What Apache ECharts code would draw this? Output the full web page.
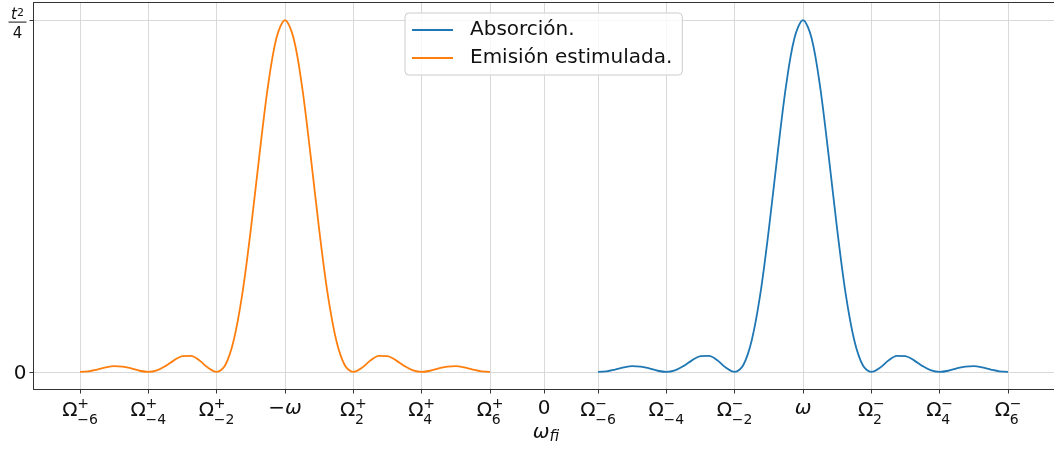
<!DOCTYPE html>
<html>
<head>
<meta charset="utf-8">
<script src="https://cdn.jsdelivr.net/npm/echarts@6/dist/echarts.min.js"></script>
<style>
  html, body { margin: 0; padding: 0; background: #fff; }
  #main { width: 1054px; height: 452px; }
</style>
</head>
<body>
<div id="main"></div>
<script>
// desplazamiento respecto al centro de cada pico (en unidades de separación entre ceros)
var offsets = [-3, -2.875, -2.75, -2.625, -2.5, -2.375, -2.25, -2.125, -2, -1.875, -1.75, -1.625, -1.5,
    -1.375, -1.25, -1.125, -1, -0.875, -0.75, -0.625, -0.5, -0.375, -0.25, -0.125, 0,
    0.125, 0.25, 0.375, 0.5, 0.625, 0.75, 0.875, 1, 1.125, 1.25, 1.375, 1.5, 1.625, 1.75,
    1.875, 2, 2.125, 2.25, 2.375, 2.5, 2.625, 2.75, 2.875, 3];

var absorcion = [0, 0.0018, 0.0067, 0.0126, 0.0162, 0.0153, 0.0100, 0.0033, 0, 0.0042, 0.0165, 0.0328, 0.045,
    0.0457, 0.0324, 0.0117, 0, 0.019, 0.090, 0.221, 0.405, 0.615, 0.811, 0.949, 1,
    0.949, 0.811, 0.615, 0.405, 0.221, 0.090, 0.019, 0, 0.0117, 0.0324, 0.0457, 0.045, 0.0328, 0.0165,
    0.0042, 0, 0.0033, 0.0100, 0.0153, 0.0162, 0.0126, 0.0067, 0.0018, 0];

var emision = [0, 0.0018, 0.0067, 0.0126, 0.0162, 0.0153, 0.0100, 0.0033, 0, 0.0042, 0.0165, 0.0328, 0.045,
    0.0457, 0.0324, 0.0117, 0, 0.019, 0.090, 0.221, 0.405, 0.615, 0.811, 0.949, 1,
    0.949, 0.811, 0.615, 0.405, 0.221, 0.090, 0.019, 0, 0.0117, 0.0324, 0.0457, 0.045, 0.0328, 0.0165,
    0.0042, 0, 0.0033, 0.0100, 0.0153, 0.0162, 0.0126, 0.0067, 0.0018, 0];

var centroAbs = 3.79;
var centroEmi = -3.79;

// marcas del eje x
var tickPos = [-6.79, -5.79, -4.79, -3.79, -2.79, -1.79, -0.79, 0, 0.79, 1.79, 2.79, 3.79, 4.79, 5.79, 6.79];
var tickBase = ['Ω', 'Ω', 'Ω', '−ω', 'Ω', 'Ω', 'Ω', '0', 'Ω', 'Ω', 'Ω', 'ω', 'Ω', 'Ω', 'Ω'];
var tickSup = ['+', '+', '+', '', '+', '+', '+', '', '−', '−', '−', '', '−', '−', '−'];
var tickSub = ['−6', '−4', '−2', '', '2', '4', '6', '', '−6', '−4', '−2', '', '2', '4', '6'];

var yTicks = [0, 1];

var FONT = 'DejaVu Sans';
var INK = '#111';
var SPINE = '#333';
var GRID = '#d9d9d9';

function toPairs(center, values) {
    return offsets.map(function (u, i) { return [center + u, values[i]]; });
}

function xLabel(v) {
    var best = 0;
    for (var i = 1; i < tickPos.length; i++) {
        if (Math.abs(tickPos[i] - v) < Math.abs(tickPos[best] - v)) best = i;
    }
    var b = tickBase[best];
    if (b === 'Ω') {
        return '{sp| }{sup|' + tickSup[best] + '}\n{o|Ω}{sub|' + tickSub[best] + '}';
    }
    if (b === '−ω') return '{h| }\n{m|−}{w|ω}';
    if (b === 'ω') return '{h| }\n{w|ω}';
    return '{h| }\n{z|' + b + '}';
}

var chart = echarts.init(document.getElementById('main'));

var option = {
    animation: false,
    backgroundColor: '#fff',
    textStyle: { fontFamily: FONT },
    grid: {
        left: 33.5, top: 2.5, width: 1025, height: 387,
        show: false,
        outerBoundsMode: 'none', containLabel: false
    },
    legend: {
        orient: 'vertical',
        left: 405, top: 13,
        padding: [6, 10, 6, 7],
        itemGap: 6,
        itemWidth: 41, itemHeight: 2,
        icon: 'rect',
        backgroundColor: 'rgba(255,255,255,0.8)',
        borderColor: '#cccccc', borderWidth: 1, borderRadius: 4,
        textStyle: { fontFamily: FONT, fontSize: 20, lineHeight: 22, color: INK, padding: [0, 0, 0, 12] },
        data: ['Absorción.', 'Emisión estimulada.']
    },
    xAxis: [{
        type: 'value',
        min: -7.47, max: 7.5285,
        name: '{w|ω}{f|fi}',
        nameLocation: 'middle',
        nameGap: 42,
        nameMoveOverlap: false,
        nameTextStyle: {
            rich: {
                w: { fontFamily: FONT, fontSize: 20, fontStyle: 'italic', color: INK, height: 2, lineHeight: 2, verticalAlign: 'top' },
                f: { fontFamily: FONT, fontSize: 15, fontStyle: 'italic', color: INK, height: 11, lineHeight: 11, verticalAlign: 'top' }
            }
        },
        axisLine: { show: true, onZero: false, lineStyle: { color: SPINE, width: 1 } },
        axisTick: { show: true, length: 4, customValues: tickPos, lineStyle: { color: SPINE, width: 1 } },
        splitLine: { show: true, lineStyle: { color: GRID, width: 1 } },
        axisLabel: {
            customValues: tickPos,
            margin: 10.5,
            formatter: xLabel,
            rich: {
                sp: { fontFamily: FONT, fontSize: 14, width: 15, height: 8, lineHeight: 8, align: 'left', verticalAlign: 'top' },
                sup: { fontFamily: FONT, fontSize: 14, color: INK, height: 8, lineHeight: 8, align: 'left', verticalAlign: 'top' },
                o: { fontFamily: FONT, fontSize: 20, color: INK, width: 15, height: 6, lineHeight: 6, align: 'left', verticalAlign: 'top' },
                sub: { fontFamily: FONT, fontSize: 14, color: INK, height: 24, lineHeight: 24, align: 'left', verticalAlign: 'top' },
                h: { fontFamily: FONT, fontSize: 14, width: 1, height: 8, lineHeight: 8, align: 'left', verticalAlign: 'top' },
                z: { fontFamily: FONT, fontSize: 20, color: INK, height: 1, lineHeight: 1, align: 'left', verticalAlign: 'top' },
                m: { fontFamily: FONT, fontSize: 20, color: INK, height: 1, lineHeight: 1, align: 'left', verticalAlign: 'top' },
                w: { fontFamily: FONT, fontSize: 20, fontStyle: 'italic', color: INK, height: 1, lineHeight: 1, align: 'left', verticalAlign: 'top' }
            }
        }
    }, {
        // borde superior del área de trazado
        type: 'value',
        position: 'top',
        min: -7.47, max: 7.5285,
        axisLine: { show: true, onZero: false, lineStyle: { color: SPINE, width: 1 } },
        axisTick: { show: false },
        axisLabel: { show: false },
        splitLine: { show: false }
    }],
    yAxis: {
        type: 'value',
        min: -0.05, max: 1.05,
        axisLine: { show: true, onZero: false, lineStyle: { color: SPINE, width: 1 } },
        axisTick: { show: true, length: 4, customValues: yTicks, lineStyle: { color: SPINE, width: 1 } },
        splitLine: { show: true, lineStyle: { color: GRID, width: 1 } },
        axisLabel: {
            customValues: yTicks,
            margin: 7,
            padding: [4, 0, 0, 0],
            formatter: function (v) {
                return v === 0 ? '{z|0}' : '{n|t}{e|2}\n{b| }\n{d|4}';
            },
            rich: {
                z: { fontFamily: FONT, fontSize: 20, color: INK },
                n: { fontFamily: FONT, fontSize: 15, fontStyle: 'italic', color: INK, height: 12, lineHeight: 12, align: 'center', verticalAlign: 'bottom' },
                e: { fontFamily: FONT, fontSize: 11, color: INK, height: 16, lineHeight: 20, align: 'center', verticalAlign: 'bottom' },
                b: { fontSize: 1, width: 18, height: 1, lineHeight: 1, backgroundColor: INK, align: 'center' },
                d: { fontFamily: FONT, fontSize: 15, color: INK, height: 16, lineHeight: 20, align: 'center', verticalAlign: 'bottom' }
            }
        }
    },
    series: [
        {
            name: 'Absorción.',
            type: 'line',
            data: toPairs(centroAbs, absorcion),
            smooth: 0.33,
            symbol: 'none',
            lineStyle: { color: '#1f77b4', width: 1.8 },
            itemStyle: { color: '#1f77b4' },
            emphasis: { disabled: true }
        },
        {
            name: 'Emisión estimulada.',
            type: 'line',
            data: toPairs(centroEmi, emision),
            smooth: 0.33,
            symbol: 'none',
            lineStyle: { color: '#ff7f0e', width: 1.8 },
            itemStyle: { color: '#ff7f0e' },
            emphasis: { disabled: true }
        }
    ]
};

chart.setOption(option);
</script>
</body>
</html>
